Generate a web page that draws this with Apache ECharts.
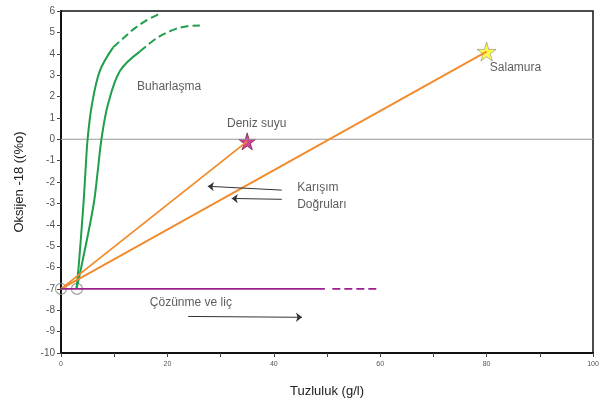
<!DOCTYPE html>
<html><head><meta charset="utf-8">
<script src="https://cdn.jsdelivr.net/npm/echarts@6/dist/echarts.min.js"></script>
<style>html,body{margin:0;padding:0;background:#fff;overflow:hidden}#c{width:614px;height:403px}</style>
</head><body><div id="c"></div>
<script>
// ---- data ----
const xTicks = [0, 20, 40, 60, 80, 100];
const yTicks = [6,5,4,3,2,1,0,-1,-2,-3,-4,-5,-6,-7,-8,-9,-10];
const evapA = [[2.9,-7],[3.3,-6],[4.2,-3.1],[4.6,-1.5],[5,0],[5.8,1.6],[7.3,3.2],[9.8,4.3]];
const evapADash = [[9.8,4.3],[11.7,4.73],[13.9,5.2],[16,5.55],[18.6,5.89]];
const evapB = [[2.9,-7],[3.8,-6],[6.1,-3.1],[6.9,-1.5],[7.6,0],[8.8,1.6],[11.1,3.2],[14.8,4.1]];
const evapBDash = [[14.8,4.1],[18,4.73],[21.1,5.12],[23.5,5.28],[26.1,5.32]];
const mixSea = [[0,-7],[35,-0.1]];
const mixBrine = [[0,-7],[80,4.1]];
const dissolution = [[0,-7],[49.6,-7]];
const dissolutionDash = [[51,-7],[60,-7]];
const origins = [[0,-7],[3,-7]];
const seaWater = [[35,-0.1]];
const brine = [[80,4.1]];
const labels = [
  [14.3,2.48,'Buharlaşma'],
  [31.2,0.71,'Deniz suyu'],
  [44.4,-2.26,'Karışım'],
  [44.4,-3.04,'Doğruları'],
  [80.6,3.36,'Salamura'],
  [16.7,-7.64,'Çözünme ve liç']
];
const arrows = [
  [[41.5,-2.38],[27.6,-2.2]],
  [[41.5,-2.81],[32.1,-2.77]],
  [[23.9,-8.29],[45.3,-8.33]]
];
// ---- chart ----
const STAR = 'path://M50,0 L61,35 L98,35 L68,57 L79,91 L50,70 L21,91 L32,57 L2,35 L39,35 Z';
const green = '#1f9e4c', orange = '#f28a2a', purple = '#9c1f8e';
const chart = echarts.init(document.getElementById('c'), null, {width:614, height:403});
const lineBase = {type:'line', showSymbol:false, symbol:'none', animation:false, silent:true};
chart.setOption({
  animation:false,
  textStyle:{fontFamily:'Liberation Sans, Arial, sans-serif'},
  grid:{left:61, width:532, top:11, height:345, show:true, borderColor:'#111', borderWidth:1.5},
  xAxis:{type:'value', min:0, max:100, interval:10,
    axisLine:{onZero:false, lineStyle:{color:'#111', width:2}}, axisTick:{length:4, lineStyle:{color:'#444'}},
    axisLabel:{fontSize:7, color:'#555', margin:8, formatter:v=>xTicks.includes(v)?String(v):''},
    splitLine:{show:false},
    name:'Tuzluluk (g/l)', nameLocation:'middle', nameGap:32, nameTextStyle:{fontSize:13, color:'#222'}},
  yAxis:{type:'value', min:-10, max:6, interval:1,
    axisLine:{onZero:false, lineStyle:{color:'#111', width:2}}, axisTick:{length:4, lineStyle:{color:'#444'}},
    axisLabel:{fontSize:10, color:'#555', margin:6, formatter:v=>yTicks.includes(v)?String(v):''},
    splitLine:{show:false},
    name:'Oksijen -18 ((%o)', nameLocation:'middle', nameGap:35, nameTextStyle:{fontSize:13, color:'#222'}},
  series:[
    Object.assign({}, lineBase, {data:[[0,0],[100,0]], lineStyle:{color:'#999', width:1}}),
    Object.assign({}, lineBase, {data:evapA, smooth:0.35, lineStyle:{color:green, width:2}}),
    Object.assign({}, lineBase, {data:evapADash, smooth:0.35, lineStyle:{color:green, width:2, type:[8,4]}}),
    Object.assign({}, lineBase, {data:evapB, smooth:0.35, lineStyle:{color:green, width:2}}),
    Object.assign({}, lineBase, {data:evapBDash, smooth:0.35, lineStyle:{color:green, width:2, type:[8,4]}}),
    Object.assign({}, lineBase, {data:mixSea, lineStyle:{color:orange, width:1.8}}),
    Object.assign({}, lineBase, {data:mixBrine, lineStyle:{color:orange, width:1.8}}),
    Object.assign({}, lineBase, {data:dissolution, lineStyle:{color:purple, width:1.8}}),
    Object.assign({}, lineBase, {data:dissolutionDash, lineStyle:{color:purple, width:1.8, type:[8,4]}}),
    {type:'scatter', data:origins, symbol:'circle', symbolSize:11, silent:true,
      itemStyle:{color:'rgba(0,0,0,0)', borderColor:'#888', borderWidth:1.2}},
    {type:'scatter', data:seaWater, symbol:STAR, symbolSize:17, silent:true,
      itemStyle:{color:'#c8127a', borderColor:'#5a0a36', borderWidth:0.8}},
    {type:'scatter', data:brine, symbol:STAR, symbolSize:19, silent:true,
      itemStyle:{color:'#ffff1a', borderColor:'#888', borderWidth:0.8}},
    {type:'scatter', data:labels, symbolSize:0, silent:true,
      label:{show:true, position:'right', distance:0, formatter:p=>p.data[2], fontSize:12, color:'#333'}},
    Object.assign({}, lineBase, {data:[], markLine:{silent:true, symbol:['none','arrow'], symbolSize:[7,6],
      label:{show:false}, lineStyle:{color:'#333', width:1, type:'solid'},
      data:arrows.map(a=>[{coord:a[0]},{coord:a[1]}])}})
  ]
});
</script></body></html>
